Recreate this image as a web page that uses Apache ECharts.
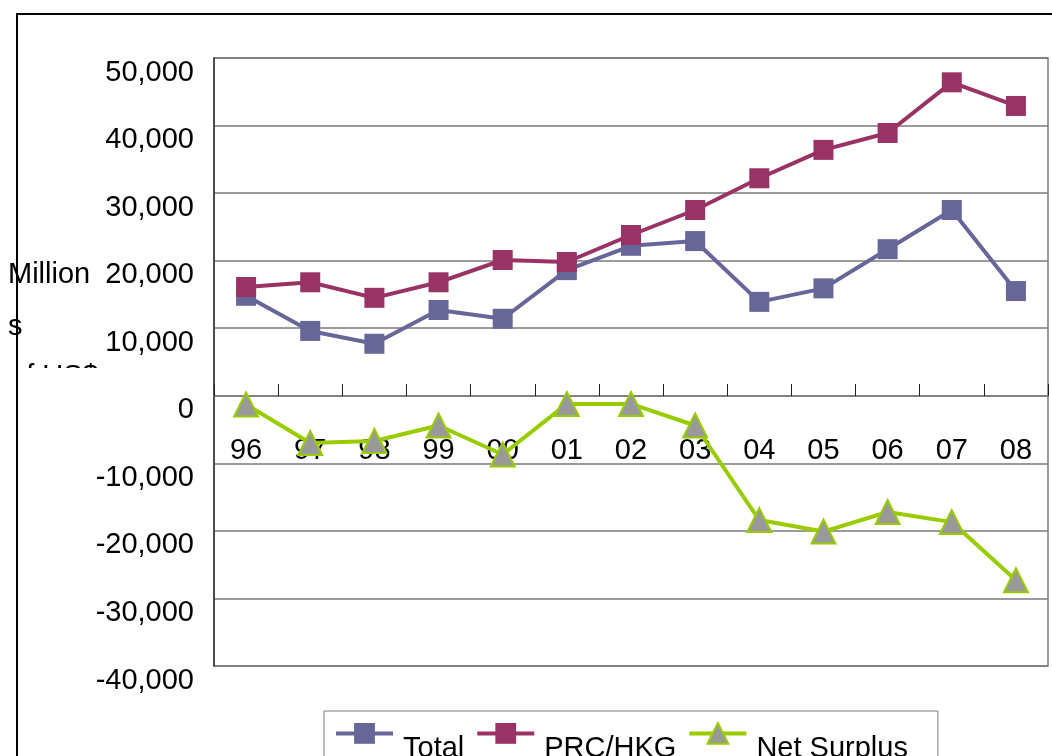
<!DOCTYPE html>
<html>
<head>
<meta charset="utf-8">
<script src="https://cdn.jsdelivr.net/npm/echarts@6/dist/echarts.min.js"></script>
<style>
  html, body { margin: 0; padding: 0; background: #fff; }
  #main { width: 1052px; height: 756px; }
</style>
</head>
<body>
<div id="main"></div>
<script>
var years = ['96', '97', '98', '99', '00', '01', '02', '03', '04', '05', '06', '07', '08'];
var total = [14800, 9600, 7700, 12700, 11400, 18600, 22200, 22900, 13900, 15900, 21700, 27500, 15500];
var prcHkg = [16100, 16800, 14500, 16800, 20100, 19800, 23800, 27500, 32200, 36400, 38900, 46400, 42900];
var netSurplus = [-1300, -7000, -6700, -4400, -8700, -1200, -1200, -4400, -18400, -20100, -17200, -18700, -27300];

var font = 'Liberation Sans, Arial, sans-serif';
var gridGray = '#7a7a7a';

var myChart = echarts.init(document.getElementById('main'));

var option = {
    backgroundColor: '#fff',
    animation: false,
    grid: {
        left: 214, right: 4, top: 58, bottom: 90,
        show: true, borderColor: gridGray, borderWidth: 1.5
    },
    legend: {
        left: 324, top: 711,
        data: ['Total', 'PRC/HKG', 'Net Surplus'],
        itemWidth: 57, itemHeight: 26, itemGap: 11,
        borderColor: gridGray, borderWidth: 1,
        padding: [11, 30, 10, 10],
        lineStyle: { width: 4 },
        formatter: '{a|{name}}',
        textStyle: {
            fontFamily: font, fontSize: 29, color: '#000',
            rich: { a: { fontFamily: font, fontSize: 29, color: '#000', padding: [32, 0, 0, 5] } }
        }
    },
    xAxis: {
        type: 'category',
        data: years,
        boundaryGap: true,
        offset: -270,
        axisLine: { show: true, onZero: false, lineStyle: { color: gridGray, width: 1.5 } },
        axisTick: { show: true, inside: true, length: 12, lineStyle: { color: '#222', width: 1 } },
        axisLabel: { show: true, margin: 40, fontFamily: font, fontSize: 29, color: '#000' }
    },
    yAxis: {
        type: 'value',
        min: -40000, max: 50000, interval: 10000,
        axisLine: { show: true, lineStyle: { color: '#333', width: 1.5 } },
        axisTick: { show: false },
        splitLine: { lineStyle: { color: gridGray, width: 1.5 } },
        axisLabel: {
            margin: 20, fontFamily: font, fontSize: 29, color: '#000',
            verticalAlign: 'top',
            formatter: function (v) { return echarts.format.addCommas(v); }
        }
    },
    series: [
        {
            name: 'Total', type: 'line', data: total,
            symbol: 'rect', symbolSize: 20,
            lineStyle: { color: '#666699', width: 4 },
            itemStyle: { color: '#666699' }
        },
        {
            name: 'PRC/HKG', type: 'line', data: prcHkg,
            symbol: 'rect', symbolSize: 20,
            lineStyle: { color: '#993366', width: 4 },
            itemStyle: { color: '#993366' }
        },
        {
            name: 'Net Surplus', type: 'line', data: netSurplus,
            symbol: 'triangle', symbolSize: 24,
            lineStyle: { color: '#99cc00', width: 4 },
            itemStyle: { color: '#999999', borderColor: '#99cc00', borderWidth: 2 }
        }
    ],
    graphic: [
        { type: 'text', left: 8, top: 260, z: 10,
          style: { text: 'Million', fontFamily: font, fontSize: 29, fill: '#000' } },
        { type: 'text', left: 8, top: 312, z: 10,
          style: { text: 's', fontFamily: font, fontSize: 29, fill: '#000' } },
        { type: 'text', left: 10, top: 362, z: 10,
          style: { text: 'of US$', fontFamily: font, fontSize: 29, fill: '#000' } },
        { type: 'rect', left: 0, top: 368, z: 20,
          shape: { width: 110, height: 26 }, style: { fill: '#fff' } },
        { type: 'rect', z: 30, silent: true,
          shape: { x: 17, y: 14, width: 1100, height: 800 },
          style: { fill: null, stroke: '#000', lineWidth: 2 } }
    ]
};

myChart.setOption(option);
</script>
</body>
</html>
